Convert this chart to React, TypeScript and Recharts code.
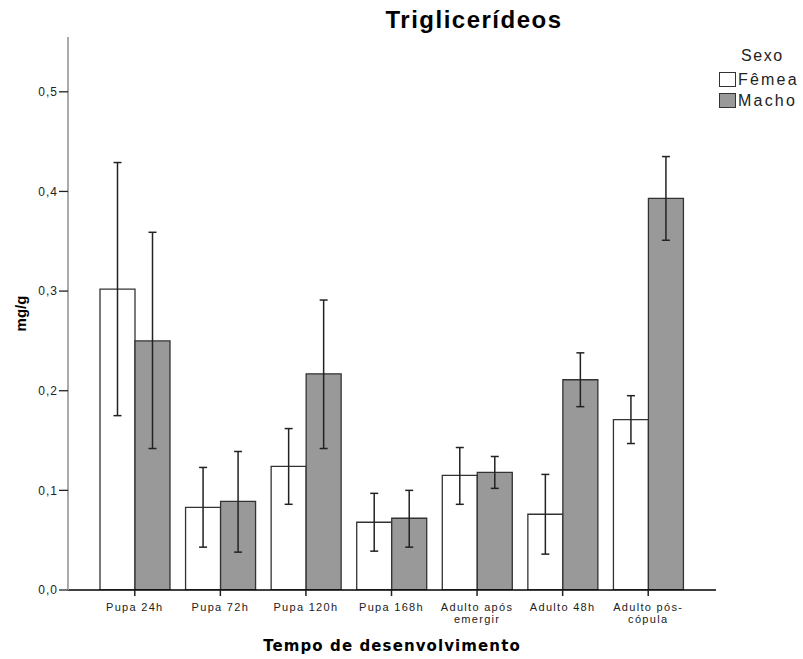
import { BarChart, Bar, XAxis, YAxis, ErrorBar, Label } from "recharts";

// Tempo de desenvolvimento (eixo X)
const CATEGORIES = [
  "Pupa 24h",
  "Pupa 72h",
  "Pupa 120h",
  "Pupa 168h",
  "Adulto após emergir",
  "Adulto 48h",
  "Adulto pós-cópula",
];

// how each category label breaks across lines under the axis
const TICK_LINES = [
  ["Pupa 24h"],
  ["Pupa 72h"],
  ["Pupa 120h"],
  ["Pupa 168h"],
  ["Adulto após", "emergir"],
  ["Adulto 48h"],
  ["Adulto pós-", "cópula"],
];

// médias (mg/g) e limites das barras de erro
const FEMEA_MEAN = [0.302, 0.083, 0.124, 0.068, 0.115, 0.076, 0.171];
const FEMEA_LOW = [0.175, 0.043, 0.086, 0.039, 0.086, 0.036, 0.147];
const FEMEA_HIGH = [0.429, 0.123, 0.162, 0.097, 0.143, 0.116, 0.195];

const MACHO_MEAN = [0.25, 0.089, 0.217, 0.072, 0.118, 0.211, 0.393];
const MACHO_LOW = [0.142, 0.038, 0.142, 0.043, 0.102, 0.184, 0.351];
const MACHO_HIGH = [0.359, 0.139, 0.291, 0.1, 0.134, 0.238, 0.435];

const Y_TICKS = [0, 0.1, 0.2, 0.3, 0.4, 0.5];

const SERIES = [
  { key: "femea", label: "Fêmea", fill: "#ffffff" },
  { key: "macho", label: "Macho", fill: "#999999" },
];

const data = CATEGORIES.map((name, i) => ({
  name,
  femea: FEMEA_MEAN[i],
  femeaErr: [FEMEA_MEAN[i] - FEMEA_LOW[i], FEMEA_HIGH[i] - FEMEA_MEAN[i]],
  macho: MACHO_MEAN[i],
  machoErr: [MACHO_MEAN[i] - MACHO_LOW[i], MACHO_HIGH[i] - MACHO_MEAN[i]],
}));

const SANS = "'Liberation Sans', Arial, sans-serif";

function CategoryTick({ x, y, payload }: any) {
  const lines = TICK_LINES[payload.index] ?? [payload.value];
  return (
    <text
      x={x}
      y={y}
      textAnchor="middle"
      fill="#222"
      fontSize={11}
      fontFamily={SANS}
      letterSpacing={1.3}
    >
      {lines.map((line: string, i: number) => (
        <tspan key={line} x={x} dy={i === 0 ? 12.5 : 12.5}>
          {line}
        </tspan>
      ))}
    </text>
  );
}

function YTitle({ viewBox }: any) {
  const cx = viewBox.x - 8;
  const cy = viewBox.y + viewBox.height / 2;
  return (
    <text
      x={cx}
      y={cy}
      transform={`rotate(-90, ${cx}, ${cy})`}
      textAnchor="middle"
      dominantBaseline="central"
      fontSize={15}
      fontWeight="bold"
      fontFamily={SANS}
      fill="#000"
    >
      mg/g
    </text>
  );
}

export default function App() {
  return (
    <div
      style={{
        position: "absolute",
        left: 0,
        top: 0,
        width: 803,
        height: 659,
        background: "#fff",
      }}
    >
      <div
        style={{
          position: "absolute",
          left: 0,
          width: 948,
          top: 6,
          textAlign: "center",
          fontFamily: SANS,
          fontWeight: "bold",
          fontSize: 24,
          letterSpacing: 1.5,
          color: "#000",
          lineHeight: "28px",
        }}
      >
        Triglicerídeos
      </div>

      <div
        style={{
          position: "absolute",
          left: 719,
          top: 45,
          fontFamily: SANS,
          fontSize: 16,
          letterSpacing: 2.2,
          color: "#222",
          lineHeight: "21px",
        }}
      >
        <div style={{ paddingLeft: 22, letterSpacing: 1.6, marginBottom: 3 }}>Sexo</div>
        {SERIES.map((s) => (
          <div key={s.key} style={{ display: "flex", alignItems: "center" }}>
            <span
              style={{
                display: "inline-block",
                width: 15,
                height: 13,
                background: s.fill,
                border: "1px solid #333",
                marginRight: 2,
              }}
            />
            {s.label}
          </div>
        ))}
      </div>

      <BarChart
        width={803}
        height={659}
        data={data}
        margin={{ top: 37, right: 87, bottom: 29, left: 28 }}
        barGap={0}
        barSize={35}
        style={{ position: "absolute", left: 0, top: 0 }}
      >
        <XAxis
          dataKey="name"
          height={40}
          padding={{ left: 24, right: 25 }}
          axisLine={{ stroke: "#000", strokeWidth: 1.5 }}
          tickLine={{ stroke: "#222", strokeWidth: 1.5 }}
          tickSize={6}
          tick={<CategoryTick />}
          interval={0}
        >
          <Label
            value="Tempo de desenvolvimento"
            position="bottom"
            offset={10}
            fill="#000"
            style={{
              fontFamily: "'DejaVu Sans', Verdana, sans-serif",
              fontWeight: "bold",
              fontSize: 15,
              letterSpacing: 1.1,
            }}
          />
        </XAxis>
        <YAxis
          width={40}
          domain={[0, 0.555]}
          ticks={Y_TICKS}
          allowDataOverflow
          axisLine={{ stroke: "#aaaaaa", strokeWidth: 2 }}
          tickLine={{ stroke: "#222", strokeWidth: 1.3 }}
          tickSize={9}
          tickMargin={1}
          tickFormatter={(v: number) => v.toFixed(1).replace(".", ",")}
          tick={{ fill: "#222", fontSize: 12, fontFamily: SANS, letterSpacing: 1 }}
        >
          <Label content={<YTitle />} />
        </YAxis>
        {SERIES.map((s) => (
          <Bar
            key={s.key}
            dataKey={s.key}
            name={s.label}
            fill={s.fill}
            stroke="#333"
            strokeWidth={1.3}
            isAnimationActive={false}
          >
            <ErrorBar
              dataKey={`${s.key}Err`}
              direction="y"
              width={4}
              stroke="#222"
              strokeWidth={1.5}
            />
          </Bar>
        ))}
      </BarChart>
    </div>
  );
}
